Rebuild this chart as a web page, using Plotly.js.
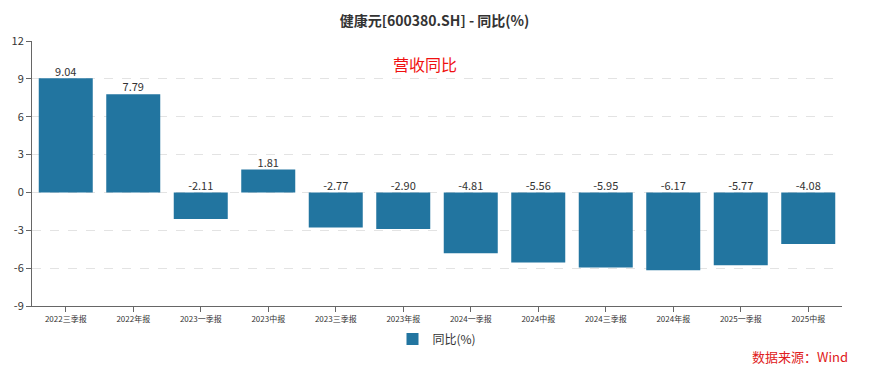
<!DOCTYPE html>
<html><head><meta charset="utf-8">
<script src="https://cdn.plot.ly/plotly-3.0.1.min.js"></script>
<style>html,body{margin:0;padding:0;background:#fff;}#chart{width:869px;height:375px;}</style>
</head><body><div id="chart"></div>
<script>
const categories = ["2022三季报","2022年报","2023一季报","2023中报","2023三季报","2023年报","2024一季报","2024中报","2024三季报","2024年报","2025一季报","2025中报"];
const yoyValues = [9.04, 7.79, -2.11, 1.81, -2.77, -2.90, -4.81, -5.56, -5.95, -6.17, -5.77, -4.08];
const yTicks = [-9, -6, -3, 0, 3, 6, 9, 12];
const seriesName = "同比(%)";

const font = '"Microsoft YaHei","Noto Sans CJK SC","Noto Sans",sans-serif';
const trace = {
  type: 'bar', x: categories, y: yoyValues, name: seriesName,
  marker: {color: '#2275a0'}, width: 0.8, hoverinfo: 'x+y'
};
const labels = {
  type: 'scatter', mode: 'text', x: categories, y: yoyValues.map(v => Math.max(v, 0)),
  text: yoyValues.map(v => v.toFixed(2)), textposition: 'top center',
  textfont: {size: 11, color: '#333', family: font}, cliponaxis: false,
  showlegend: false, hoverinfo: 'skip'
};
const layout = {
  width: 869, height: 375,
  margin: {l: 32, r: 27, t: 41, b: 69},
  paper_bgcolor: '#fff', plot_bgcolor: '#fff',
  font: {family: font, color: '#333'},
  title: {text: '<b>健康元[600380.SH] - 同比(%)</b>', x: 0.5, xanchor: 'center', y: 0.945, yanchor: 'middle', font: {size: 14, color: '#333', family: font}},
  xaxis: {type: 'category', showline: true, linecolor: '#666', linewidth: 1, ticks: 'outside', ticklen: 5, tickcolor: '#666',
    tickfont: {size: 8, color: '#333', family: font}, showgrid: false, tickangle: 0, range: [-0.5, 11.5]},
  yaxis: {range: [-9, 12], tickvals: yTicks, ticktext: yTicks.map(String), showline: true, linecolor: '#666', linewidth: 1,
    ticks: 'outside', ticklen: 5, tickcolor: '#666', tickfont: {size: 11, color: '#333', family: font},
    showgrid: true, gridcolor: '#e3e3e3', griddash: 'dash', gridwidth: 1, zeroline: false},
  showlegend: true,
  legend: {orientation: 'h', x: 0.5, xanchor: 'center', y: -0.07, yanchor: 'top', font: {size: 12, color: '#333', family: font}},
  annotations: [
    {text: '营收同比', xref: 'paper', yref: 'paper', x: 0.485, y: 0.915, xanchor: 'center', yanchor: 'middle', showarrow: false, font: {size: 16, color: '#f01010', family: font}},
    {text: '数据来源：Wind', xref: 'paper', yref: 'paper', x: 1.01, y: -0.19, xanchor: 'right', yanchor: 'middle', showarrow: false, font: {size: 13, color: '#e02020', family: font}}
  ],
  bargap: 0.2
};
Plotly.newPlot('chart', [trace, labels], layout, {displayModeBar: false, staticPlot: true});
</script></body></html>
